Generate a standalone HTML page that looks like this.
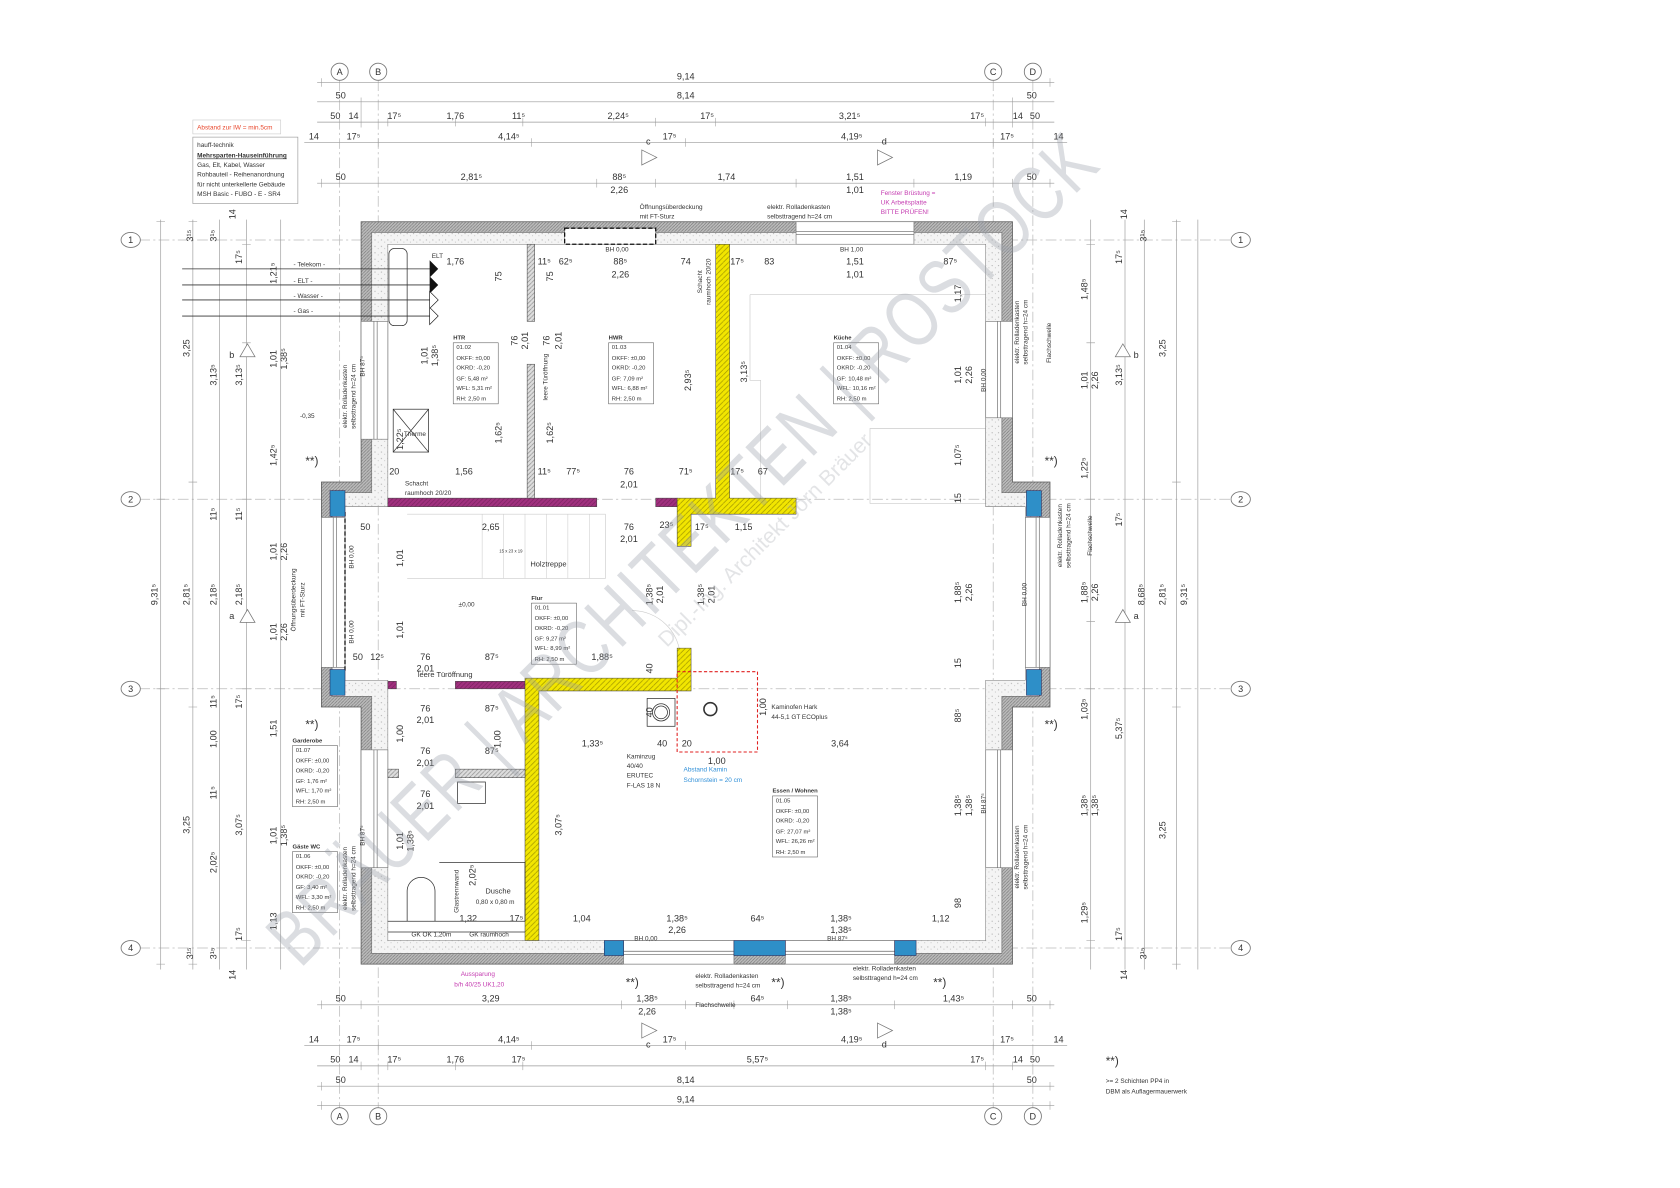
<!DOCTYPE html>
<html><head><meta charset="utf-8"><style>
html,body{margin:0;padding:0;background:#fff;}
svg{display:block;}
text{font-family:"Liberation Sans",sans-serif;fill:#333;}
.d{font-size:8.5px;}
.s{font-size:6px;}
.t{font-size:5.5px;}
</style></head><body>
<svg width="1680" height="1188" viewBox="0 0 1568 1109" preserveAspectRatio="none" xmlns="http://www.w3.org/2000/svg">
<defs>
<pattern id="h" width="3" height="3" patternUnits="userSpaceOnUse"><rect width="3" height="3" fill="#bbb"/><path d="M0 3L3 0" stroke="#777" stroke-width="0.6"/></pattern>
<pattern id="y" width="5" height="5" patternUnits="userSpaceOnUse"><rect width="5" height="5" fill="#f2e600"/><path d="M0 5L5 0" stroke="#9a9000" stroke-width="0.6"/></pattern>
<pattern id="m" width="4" height="4" patternUnits="userSpaceOnUse"><rect width="4" height="4" fill="#a0307e"/><path d="M0 4L4 0" stroke="#6d1c55" stroke-width="0.5"/></pattern>
<pattern id="g" width="4" height="4" patternUnits="userSpaceOnUse"><rect width="4" height="4" fill="#ddd"/><path d="M0 4L4 0" stroke="#888" stroke-width="0.6"/></pattern>
<pattern id="dt" width="6" height="6" patternUnits="userSpaceOnUse"><rect width="6" height="6" fill="#f4f4f4"/><circle cx="2" cy="2" r="0.5" fill="#999"/><circle cx="5" cy="4" r="0.4" fill="#aaa"/></pattern>
</defs>

<g stroke="#bbb" stroke-width="0.7" stroke-dasharray="10 3 2 3" fill="none">
<line x1="317" y1="75" x2="317" y2="1034"/><line x1="353" y1="75" x2="353" y2="1034"/>
<line x1="927" y1="75" x2="927" y2="1034"/><line x1="964" y1="75" x2="964" y2="1034"/>
<line x1="130" y1="224" x2="1150" y2="224"/><line x1="130" y1="466" x2="1150" y2="466"/>
<line x1="130" y1="643" x2="1150" y2="643"/><line x1="130" y1="885" x2="1150" y2="885"/>
</g>
<g fill="#fff" stroke="#777" stroke-width="0.8">
<ellipse cx="317" cy="67" rx="8" ry="8"/><ellipse cx="353" cy="67" rx="8" ry="8"/><ellipse cx="927" cy="67" rx="8" ry="8"/><ellipse cx="964" cy="67" rx="8" ry="8"/>
<ellipse cx="317" cy="1042" rx="8" ry="8"/><ellipse cx="353" cy="1042" rx="8" ry="8"/><ellipse cx="927" cy="1042" rx="8" ry="8"/><ellipse cx="964" cy="1042" rx="8" ry="8"/>
<ellipse cx="122" cy="224" rx="9" ry="7"/><ellipse cx="122" cy="466" rx="9" ry="7"/><ellipse cx="122" cy="643" rx="9" ry="7"/><ellipse cx="122" cy="885" rx="9" ry="7"/>
<ellipse cx="1158" cy="224" rx="9" ry="7"/><ellipse cx="1158" cy="466" rx="9" ry="7"/><ellipse cx="1158" cy="643" rx="9" ry="7"/><ellipse cx="1158" cy="885" rx="9" ry="7"/>
</g>
<g class="d" text-anchor="middle">
<text x="317" y="70">A</text><text x="353" y="70">B</text><text x="927" y="70">C</text><text x="964" y="70">D</text>
<text x="317" y="1045">A</text><text x="353" y="1045">B</text><text x="927" y="1045">C</text><text x="964" y="1045">D</text>
<text x="122" y="227">1</text><text x="122" y="469">2</text><text x="122" y="646">3</text><text x="122" y="888">4</text>
<text x="1158" y="227">1</text><text x="1158" y="469">2</text><text x="1158" y="646">3</text><text x="1158" y="888">4</text>
</g>

<g stroke="#999" stroke-width="0.6">
<line x1="296" y1="77" x2="984" y2="77"/><line x1="296" y1="95" x2="984" y2="95"/>
<line x1="296" y1="114" x2="984" y2="114"/><line x1="284" y1="133" x2="996" y2="133"/>
<line x1="296" y1="171" x2="984" y2="171"/>
<line x1="296" y1="938" x2="984" y2="938"/><line x1="284" y1="976" x2="996" y2="976"/>
<line x1="296" y1="995" x2="984" y2="995"/><line x1="296" y1="1014" x2="984" y2="1014"/>
<line x1="296" y1="1032" x2="984" y2="1032"/>
<line x1="150" y1="205" x2="150" y2="905"/><line x1="180" y1="205" x2="180" y2="905"/>
<line x1="205" y1="205" x2="205" y2="905"/><line x1="230" y1="205" x2="230" y2="905"/>
<line x1="262" y1="205" x2="262" y2="905"/>
<line x1="1018" y1="205" x2="1018" y2="905"/><line x1="1050" y1="205" x2="1050" y2="905"/>
<line x1="1068" y1="205" x2="1068" y2="905"/><line x1="1098" y1="205" x2="1098" y2="905"/>
<line x1="1118" y1="205" x2="1118" y2="905"/>
</g>
<g stroke="#999" stroke-width="0.5">
<path d="M300 73v8M337 91v28M362 110v8M425 110v8M488 110v8M612 110v8M668 110v8M920 110v8M945 91v28M980 73v8M353 129v8M496 129v8M640 129v8M927 129v8M300 167v8M557 167v8M612 167v8M743 167v8M853 167v8M945 167v8M980 167v8"/>
<path d="M300 934v8M337 934v8M580 934v8M640 934v8M685 934v8M735 934v8M835 934v8M945 934v8M980 934v8M353 972v8M496 972v8M640 972v8M927 972v8M337 991v8M362 991v8M425 991v8M488 991v8M920 991v8M945 991v8M300 1010v8M980 1010v8M300 1028v8M980 1028v8"/>
<path d="M146 207h8M146 466h8M146 643h8M146 900h8M176 207h8M176 450h8M176 660h8M176 900h8M226 228h8M226 320h8M226 466h8M226 580h8M226 643h8M226 878h8M1014 228h8M1014 320h8M1014 466h8M1014 580h8M1014 643h8M1014 878h8M1094 207h8M1094 450h8M1094 660h8M1094 900h8"/>
</g>
<g class="d" text-anchor="middle">
<text x="640" y="74">9,14</text>
<text x="318" y="92">50</text><text x="640" y="92">8,14</text><text x="963" y="92">50</text>
<text x="313" y="111">50</text><text x="330" y="111">14</text><text x="368" y="111">17⁵</text><text x="425" y="111">1,76</text><text x="484" y="111">11⁵</text><text x="577" y="111">2,24⁵</text><text x="660" y="111">17⁵</text><text x="793" y="111">3,21⁵</text><text x="912" y="111">17⁵</text><text x="950" y="111">14</text><text x="966" y="111">50</text>
<text x="293" y="130">14</text><text x="330" y="130">17⁵</text><text x="475" y="130">4,14⁵</text><text x="625" y="130">17⁵</text><text x="795" y="130">4,19⁵</text><text x="940" y="130">17⁵</text><text x="988" y="130">14</text>
<text x="318" y="168">50</text><text x="440" y="168">2,81⁵</text><text x="578" y="168">88⁵</text><text x="578" y="180">2,26</text><text x="678" y="168">1,74</text><text x="798" y="168">1,51</text><text x="798" y="180">1,01</text><text x="899" y="168">1,19</text><text x="963" y="168">50</text>
<text x="318" y="935">50</text><text x="458" y="935">3,29</text><text x="604" y="935">1,38⁵</text><text x="604" y="947">2,26</text><text x="707" y="935">64⁵</text><text x="785" y="935">1,38⁵</text><text x="785" y="947">1,38⁵</text><text x="890" y="935">1,43⁵</text><text x="963" y="935">50</text>
<text x="293" y="973">14</text><text x="330" y="973">17⁵</text><text x="475" y="973">4,14⁵</text><text x="625" y="973">17⁵</text><text x="795" y="973">4,19⁵</text><text x="940" y="973">17⁵</text><text x="988" y="973">14</text>
<text x="313" y="992">50</text><text x="330" y="992">14</text><text x="368" y="992">17⁵</text><text x="425" y="992">1,76</text><text x="484" y="992">17⁵</text><text x="707" y="992">5,57⁵</text><text x="912" y="992">17⁵</text><text x="950" y="992">14</text><text x="966" y="992">50</text>
<text x="318" y="1011">50</text><text x="640" y="1011">8,14</text><text x="963" y="1011">50</text>
<text x="640" y="1029">9,14</text>
</g>
<g class="d" text-anchor="middle">
<text transform="translate(147,555) rotate(-90)">9,31⁵</text>
<text transform="translate(177,325) rotate(-90)">3,25</text><text transform="translate(177,555) rotate(-90)">2,81⁵</text><text transform="translate(177,770) rotate(-90)">3,25</text>
<text transform="translate(202,350) rotate(-90)">3,13⁵</text><text transform="translate(202,480) rotate(-90)">11⁵</text><text transform="translate(202,555) rotate(-90)">2,18⁵</text><text transform="translate(202,655) rotate(-90)">11⁵</text><text transform="translate(202,690) rotate(-90)">1,00</text><text transform="translate(202,740) rotate(-90)">11⁵</text><text transform="translate(202,805) rotate(-90)">2,02⁵</text>
<text transform="translate(226,350) rotate(-90)">3,13⁵</text><text transform="translate(226,480) rotate(-90)">11⁵</text><text transform="translate(226,555) rotate(-90)">2,18⁵</text><text transform="translate(226,655) rotate(-90)">17⁵</text><text transform="translate(226,770) rotate(-90)">3,07⁵</text><text transform="translate(226,240) rotate(-90)">17⁵</text><text transform="translate(226,872) rotate(-90)">17⁵</text>
<text transform="translate(258,335) rotate(-90)">1,01</text><text transform="translate(268,335) rotate(-90)">1,38⁵</text><text transform="translate(258,425) rotate(-90)">1,42⁵</text><text transform="translate(258,515) rotate(-90)">1,01</text><text transform="translate(268,515) rotate(-90)">2,26</text><text transform="translate(258,590) rotate(-90)">1,01</text><text transform="translate(268,590) rotate(-90)">2,26</text><text transform="translate(258,680) rotate(-90)">1,51</text><text transform="translate(258,780) rotate(-90)">1,01</text><text transform="translate(268,780) rotate(-90)">1,38⁵</text><text transform="translate(258,860) rotate(-90)">1,13</text><text transform="translate(258,255) rotate(-90)">1,21⁵</text>
<text transform="translate(1015,270) rotate(-90)">1,48⁵</text><text transform="translate(1015,355) rotate(-90)">1,01</text><text transform="translate(1025,355) rotate(-90)">2,26</text><text transform="translate(1015,437) rotate(-90)">1,22⁵</text><text transform="translate(1015,553) rotate(-90)">1,88⁵</text><text transform="translate(1025,553) rotate(-90)">2,26</text><text transform="translate(1015,662) rotate(-90)">1,03⁵</text><text transform="translate(1015,752) rotate(-90)">1,38⁵</text><text transform="translate(1025,752) rotate(-90)">1,38⁵</text><text transform="translate(1015,852) rotate(-90)">1,29⁵</text>
<text transform="translate(1047,240) rotate(-90)">17⁵</text><text transform="translate(1047,350) rotate(-90)">3,13⁵</text><text transform="translate(1047,485) rotate(-90)">17⁵</text><text transform="translate(1047,680) rotate(-90)">5,37⁵</text><text transform="translate(1047,872) rotate(-90)">17⁵</text>
<text transform="translate(1068,555) rotate(-90)">8,68⁵</text>
<text transform="translate(1088,325) rotate(-90)">3,25</text><text transform="translate(1088,555) rotate(-90)">2,81⁵</text><text transform="translate(1088,775) rotate(-90)">3,25</text>
<text transform="translate(1108,555) rotate(-90)">9,31⁵</text>
<text transform="translate(180,220) rotate(-90)">3¹⁵</text><text transform="translate(202,220) rotate(-90)">3¹⁵</text><text transform="translate(1070,220) rotate(-90)">3¹⁵</text>
<text transform="translate(180,890) rotate(-90)">3¹⁵</text><text transform="translate(202,890) rotate(-90)">3¹⁵</text><text transform="translate(1070,890) rotate(-90)">3¹⁵</text>
<text transform="translate(220,200) rotate(-90)">14</text><text transform="translate(220,910) rotate(-90)">14</text><text transform="translate(1052,200) rotate(-90)">14</text><text transform="translate(1052,910) rotate(-90)">14</text>
</g>
<g fill="#fff" stroke="#777" stroke-width="0.7">
<path d="M599 140l14 7-14 7z"/><path d="M819 140l14 7-14 7z"/><path d="M599 955l14 7-14 7z"/><path d="M819 955l14 7-14 7z"/>
<path d="M224 333l7-12 7 12z"/><path d="M224 581l7-12 7 12z"/><path d="M1041 333l7-12 7 12z"/><path d="M1041 581l7-12 7 12z"/>
</g>
<g class="d"><text x="603" y="135">c</text><text x="823" y="135">d</text><text x="603" y="978">c</text><text x="823" y="978">d</text><text x="214" y="334">b</text><text x="214" y="578">a</text><text x="1058" y="334">b</text><text x="1058" y="578">a</text></g>

<rect x="180" y="112" width="82" height="13" fill="#fff" stroke="#ccc" stroke-width="0.6"/>
<text x="184" y="121" class="s" style="fill:#e8452a">Abstand zur IW = min.5cm</text>
<rect x="180" y="128" width="98" height="62" fill="#fff" stroke="#999" stroke-width="0.6"/>
<g class="s"><text x="184" y="137">hauff-technik</text><text x="184" y="147" font-weight="bold" text-decoration="underline">Mehrsparten-Hauseinführung</text><text x="184" y="156">Gas, Elt, Kabel, Wasser</text><text x="184" y="165">Rohbauteil - Reihenanordnung</text><text x="184" y="174">für nicht unterkellerte Gebäude</text><text x="184" y="183">MSH Basic - FUBO - E - SR4</text></g>

<g fill="none" stroke="#ccc" stroke-width="0.6">
<path d="M700 275h220v190"/><path d="M700 275v80h10v110"/>
<path d="M812 400h108v70h-108z"/>
<path d="M590 570a45 45 0 0 1 45 45"/>
<path d="M380 480h185v60h-185"/>
</g>
<g stroke="#ccc" stroke-width="0.5">
<path d="M450 480v60M470 480v60M490 480v60M510 480v60M530 480v60M550 480v60"/>
</g>

<path fill-rule="evenodd" fill="url(#h)" stroke="#555" stroke-width="0.7" d="M337 207H945V450H980V660H945V900H337V660H300V450H337Z M347 217H935V460H970V650H935V890H347V650H310V460H347Z"/>
<path fill-rule="evenodd" fill="url(#dt)" stroke="#777" stroke-width="0.5" d="M347 217H935V460H970V650H935V890H347V650H310V460H347Z M362 228H920V473H957V635H920V878H362V635H322V473H362Z"/>
<g fill="#fff" stroke="#777" stroke-width="0.6">
<rect x="743" y="207" width="110" height="21"/>
<rect x="527" y="213" width="85" height="15"/>
<rect x="337" y="300" width="25" height="110"/><rect x="920" y="300" width="25" height="90"/>
<rect x="300" y="483" width="22" height="140"/><rect x="957" y="483" width="23" height="140"/>
<rect x="337" y="700" width="25" height="110"/><rect x="920" y="700" width="25" height="110"/>
<rect x="582" y="878" width="103" height="22"/><rect x="733" y="878" width="102" height="22"/>
</g>
<g stroke="#666" stroke-width="0.6" fill="none">
<path d="M743 216h110M743 219h110M349 300v110M352 300v110M931 300v90M934 300v90M311 483v140M314 483v140M967 483v140M970 483v140M349 700v110M352 700v110M931 700v110M934 700v110M582 888h103M582 891h103M733 888h102M733 891h102"/>
</g>
<rect x="527" y="213" width="85" height="15" fill="none" stroke="#111" stroke-width="1.2" stroke-dasharray="4 2"/>
<path d="M322 478v150" stroke="#111" stroke-width="1.2" stroke-dasharray="4 2"/>
<g fill="#2e8fc8" stroke="#225" stroke-width="0.5">
<rect x="308" y="458" width="14" height="24"/><rect x="308" y="625" width="14" height="24"/>
<rect x="958" y="458" width="14" height="24"/><rect x="958" y="625" width="14" height="24"/>
<rect x="564" y="878" width="18" height="14"/><rect x="685" y="878" width="48" height="14"/><rect x="835" y="878" width="20" height="14"/>
</g>

<g stroke="#444" stroke-width="0.5">
<rect x="362" y="465" width="195" height="8" fill="url(#m)"/><rect x="612" y="465" width="20" height="8" fill="url(#m)"/>
<rect x="362" y="636" width="8" height="7" fill="url(#m)"/><rect x="425" y="636" width="65" height="7" fill="url(#m)"/>
<path fill="url(#y)" d="M668 228H681V465H743V480H645V510H632V465H668Z"/>
<path fill="url(#y)" d="M632 605H645V645H503V878H490V633H632Z"/>
<rect x="492" y="228" width="7" height="72" fill="url(#g)"/><rect x="492" y="340" width="7" height="125" fill="url(#g)"/>
<rect x="362" y="718" width="10" height="8" fill="url(#g)"/><rect x="425" y="718" width="65" height="8" fill="url(#g)"/>
</g>
<g fill="none" stroke="#333" stroke-width="0.7">
<path d="M410 805H490V860M362 860H490"/><path d="M362 870H490"/>
<path d="M380 860v-28a13 13 0 0 1 26 0v28"/>
<rect x="367" y="382" width="33" height="40"/><path d="M367 382l33 40M400 382l-33 40"/>
<rect x="604" y="652" width="26" height="26"/><circle cx="617" cy="665" r="8"/><circle cx="617" cy="665" r="6"/>
<rect x="427" y="730" width="26" height="20"/>
<rect x="363" y="232" width="17" height="72" rx="5"/>
</g>
<rect x="632" y="627" width="75" height="75" fill="none" stroke="#e02020" stroke-width="1" stroke-dasharray="3 2"/>
<circle cx="663" cy="662" r="6" fill="none" stroke="#333" stroke-width="1.5"/>
<g stroke="#333" stroke-width="0.8">
<line x1="170" y1="251" x2="405" y2="251"/><line x1="170" y1="266" x2="405" y2="266"/><line x1="170" y1="280" x2="405" y2="280"/><line x1="170" y1="295" x2="405" y2="295"/>
</g>
<path d="M401 243l8 8-8 8zM401 258l8 8-8 8z" fill="#111"/>
<path d="M401 272l8 8-8 8zM401 287l8 8-8 8z" fill="#fff" stroke="#111" stroke-width="0.6"/>
<g class="s"><text x="274" y="249">- Telekom -</text><text x="274" y="264">- ELT -</text><text x="274" y="278">- Wasser -</text><text x="274" y="292">- Gas -</text></g>

<g class="t">
<g transform="translate(423,312)"><text y="5" font-weight="bold">HTR</text><rect y="8" width="42" height="57" fill="none" stroke="#555" stroke-width="0.5"/><text x="3" y="14">01.02</text><text x="3" y="24">OKFF: ±0,00</text><text x="3" y="33">OKRD: -0,20</text><text x="3" y="43">GF:   5,48 m²</text><text x="3" y="52">WFL: 5,31 m²</text><text x="3" y="62">RH:   2,50 m</text></g>
<g transform="translate(568,312)"><text y="5" font-weight="bold">HWR</text><rect y="8" width="42" height="57" fill="none" stroke="#555" stroke-width="0.5"/><text x="3" y="14">01.03</text><text x="3" y="24">OKFF: ±0,00</text><text x="3" y="33">OKRD: -0,20</text><text x="3" y="43">GF:   7,09 m²</text><text x="3" y="52">WFL: 6,88 m²</text><text x="3" y="62">RH:   2,50 m</text></g>
<g transform="translate(778,312)"><text y="5" font-weight="bold">Küche</text><rect y="8" width="42" height="57" fill="none" stroke="#555" stroke-width="0.5"/><text x="3" y="14">01.04</text><text x="3" y="24">OKFF: ±0,00</text><text x="3" y="33">OKRD: -0,20</text><text x="3" y="43">GF:   10,48 m²</text><text x="3" y="52">WFL: 10,16 m²</text><text x="3" y="62">RH:   2,50 m</text></g>
<g transform="translate(496,555)"><text y="5" font-weight="bold">Flur</text><rect y="8" width="42" height="57" fill="none" stroke="#555" stroke-width="0.5"/><text x="3" y="14">01.01</text><text x="3" y="24">OKFF: ±0,00</text><text x="3" y="33">OKRD: -0,20</text><text x="3" y="43">GF:   9,27 m²</text><text x="3" y="52">WFL: 8,99 m²</text><text x="3" y="62">RH:   2,50 m</text></g>
<g transform="translate(721,735)"><text y="5" font-weight="bold">Essen / Wohnen</text><rect y="8" width="42" height="57" fill="none" stroke="#555" stroke-width="0.5"/><text x="3" y="14">01.05</text><text x="3" y="24">OKFF: ±0,00</text><text x="3" y="33">OKRD: -0,20</text><text x="3" y="43">GF:   27,07 m²</text><text x="3" y="52">WFL: 26,26 m²</text><text x="3" y="62">RH:   2,50 m</text></g>
<g transform="translate(273,688)"><text y="5" font-weight="bold">Garderobe</text><rect y="8" width="42" height="57" fill="none" stroke="#555" stroke-width="0.5"/><text x="3" y="14">01.07</text><text x="3" y="24">OKFF: ±0,00</text><text x="3" y="33">OKRD: -0,20</text><text x="3" y="43">GF:   1,76 m²</text><text x="3" y="52">WFL: 1,70 m²</text><text x="3" y="62">RH:   2,50 m</text></g>
<g transform="translate(273,787)"><text y="5" font-weight="bold">Gäste WC</text><rect y="8" width="42" height="57" fill="none" stroke="#555" stroke-width="0.5"/><text x="3" y="14">01.06</text><text x="3" y="24">OKFF: ±0,00</text><text x="3" y="33">OKRD: -0,20</text><text x="3" y="43">GF:   3,40 m²</text><text x="3" y="52">WFL: 3,30 m²</text><text x="3" y="62">RH:   2,50 m</text></g>
</g>

<g class="d" text-anchor="middle">
<text x="425" y="247">1,76</text><text x="508" y="247">11⁵</text><text x="528" y="247">62⁵</text><text x="579" y="247">88⁵</text><text x="579" y="259">2,26</text><text x="640" y="247">74</text><text x="688" y="247">17⁵</text><text x="718" y="247">83</text><text x="798" y="247">1,51</text><text x="798" y="259">1,01</text><text x="887" y="247">87⁵</text>
<text x="368" y="443">20</text><text x="433" y="443">1,56</text><text x="508" y="443">11⁵</text><text x="535" y="443">77⁵</text><text x="587" y="443">76</text><text x="587" y="455">2,01</text><text x="640" y="443">71⁵</text><text x="688" y="443">17⁵</text><text x="712" y="443">67</text>
<text x="341" y="495">50</text><text x="458" y="495">2,65</text><text x="587" y="495">76</text><text x="587" y="506">2,01</text><text x="622" y="493">23⁵</text><text x="655" y="495">17⁵</text><text x="694" y="495">1,15</text>
<text x="334" y="616">50</text><text x="352" y="616">12⁵</text><text x="397" y="616">76</text><text x="397" y="627">2,01</text><text x="459" y="616">87⁵</text><text x="562" y="616">1,88⁵</text>
<text x="397" y="664">76</text><text x="397" y="675">2,01</text><text x="459" y="664">87⁵</text>
<text x="397" y="704">76</text><text x="397" y="715">2,01</text><text x="459" y="704">87⁵</text>
<text x="397" y="744">76</text><text x="397" y="755">2,01</text>
<text x="553" y="697">1,33⁵</text><text x="618" y="697">40</text><text x="641" y="697">20</text><text x="784" y="697">3,64</text><text x="669" y="713">1,00</text>
<text x="543" y="860">1,04</text><text x="632" y="860">1,38⁵</text><text x="632" y="871">2,26</text><text x="707" y="860">64⁵</text><text x="785" y="860">1,38⁵</text><text x="785" y="871">1,38⁵</text><text x="878" y="860">1,12</text><text x="437" y="860">1,32</text><text x="482" y="860">17⁵</text>
</g>
<g class="d" text-anchor="middle">
<text transform="translate(468,258) rotate(-90)">75</text><text transform="translate(516,258) rotate(-90)">75</text>
<text transform="translate(483,318) rotate(-90)">76</text><text transform="translate(493,318) rotate(-90)">2,01</text>
<text transform="translate(513,318) rotate(-90)">76</text><text transform="translate(524,318) rotate(-90)">2,01</text>
<text transform="translate(468,404) rotate(-90)">1,62⁵</text><text transform="translate(516,404) rotate(-90)">1,62⁵</text>
<text transform="translate(645,355) rotate(-90)">2,93⁵</text><text transform="translate(697,347) rotate(-90)">3,13⁵</text>
<text transform="translate(399,332) rotate(-90)">1,01</text><text transform="translate(409,332) rotate(-90)">1,38⁵</text>
<text transform="translate(376,410) rotate(-90)">1,22⁵</text>
<text transform="translate(376,521) rotate(-90)">1,01</text><text transform="translate(376,588) rotate(-90)">1,01</text>
<text transform="translate(376,685) rotate(-90)">1,00</text><text transform="translate(467,690) rotate(-90)">1,00</text>
<text transform="translate(376,785) rotate(-90)">1,01</text><text transform="translate(386,785) rotate(-90)">1,38⁵</text>
<text transform="translate(524,770) rotate(-90)">3,07⁵</text><text transform="translate(444,817) rotate(-90)">2,02⁵</text>
<text transform="translate(609,555) rotate(-90)">1,38⁵</text><text transform="translate(619,555) rotate(-90)">2,01</text>
<text transform="translate(657,555) rotate(-90)">1,38⁵</text><text transform="translate(667,555) rotate(-90)">2,01</text>
<text transform="translate(609,624) rotate(-90)">40</text><text transform="translate(609,665) rotate(-90)">40</text>
<text transform="translate(897,274) rotate(-90)">1,17</text><text transform="translate(897,425) rotate(-90)">1,07⁵</text>
<text transform="translate(897,465) rotate(-90)">15</text><text transform="translate(897,619) rotate(-90)">15</text>
<text transform="translate(897,553) rotate(-90)">1,88⁵</text><text transform="translate(907,553) rotate(-90)">2,26</text>
<text transform="translate(897,350) rotate(-90)">1,01</text><text transform="translate(907,350) rotate(-90)">2,26</text>
<text transform="translate(897,668) rotate(-90)">88⁵</text><text transform="translate(897,843) rotate(-90)">98</text>
<text transform="translate(897,752) rotate(-90)">1,38⁵</text><text transform="translate(907,752) rotate(-90)">1,38⁵</text>
<text transform="translate(715,660) rotate(-90)">1,00</text>
</g>
<g class="s">
<text x="597" y="195">Öffnungsüberdeckung</text><text x="597" y="204">mit FT-Sturz</text>
<text x="716" y="195">elektr. Rolladenkasten</text><text x="716" y="204">selbsttragend h=24 cm</text>
<text x="822" y="182" style="fill:#c43bb0">Fenster Brüstung =</text><text x="822" y="191" style="fill:#c43bb0">UK Arbeitsplatte</text><text x="822" y="200" style="fill:#c43bb0">BITTE PRÜFEN!</text>
<text x="565" y="235">BH 0,00</text><text x="784" y="235">BH 1,00</text><text x="403" y="241">ELT</text>
<text x="378" y="453">Schacht</text><text x="378" y="462">raumhoch 20/20</text>
<text x="377" y="407">Therme</text>
<text x="466" y="516" font-size="4">15 x 23 x 19</text><text x="495" y="529" style="font-size:7px">Holztreppe</text>
<text x="428" y="566">±0,00</text><text x="280" y="390">-0,35</text>
<text x="390" y="632" style="font-size:7px">leere Türöffnung</text>
<text x="720" y="662">Kaminofen Hark</text><text x="720" y="671">44-5,1 GT ECOplus</text>
<text x="585" y="708">Kaminzug</text><text x="585" y="717">40/40</text><text x="585" y="726">ERUTEC</text><text x="585" y="735">F-LAS 18 N</text>
<text x="638" y="720" style="fill:#2f8fd8">Abstand Kamin</text><text x="638" y="730" style="fill:#2f8fd8">Schornstein = 20 cm</text>
<text x="453" y="834" style="font-size:7px">Dusche</text><text x="444" y="844">0,80 x 0,80 m</text>
<text x="384" y="874">GK OK 1,20m</text><text x="438" y="874">GK raumhoch</text>
<text x="430" y="911" style="fill:#c43bb0">Aussparung</text><text x="424" y="921" style="fill:#c43bb0">b/h 40/25 UK1,20</text>
<text x="649" y="913">elektr. Rolladenkasten</text><text x="649" y="922">selbsttragend h=24 cm</text><text x="649" y="940">Flachschwelle</text>
<text x="796" y="906">elektr. Rolladenkasten</text><text x="796" y="915">selbsttragend h=24 cm</text>
<text x="592" y="878">BH 0,00</text><text x="772" y="878">BH 87⁵</text>
<text x="1032" y="1011">&gt;= 2 Schichten PP4 in</text><text x="1032" y="1021">DBM als Auflagermauerwerk</text>
</g>
<g class="s" text-anchor="middle">
<text transform="translate(655,263) rotate(-90)">Schacht</text><text transform="translate(663,263) rotate(-90)">raumhoch 20/20</text>
<text transform="translate(511,352) rotate(-90)">leere Türöffnung</text>
<text transform="translate(324,370) rotate(-90)">elektr. Rolladenkasten</text><text transform="translate(332,370) rotate(-90)">selbsttragend h=24 cm</text>
<text transform="translate(324,820) rotate(-90)">elektr. Rolladenkasten</text><text transform="translate(332,820) rotate(-90)">selbsttragend h=24 cm</text>
<text transform="translate(276,560) rotate(-90)">Öffnungsüberdeckung</text><text transform="translate(284,560) rotate(-90)">mit FT-Sturz</text>
<text transform="translate(951,310) rotate(-90)">elektr. Rolladenkasten</text><text transform="translate(959,310) rotate(-90)">selbsttragend h=24 cm</text><text transform="translate(981,320) rotate(-90)">Flachschwelle</text>
<text transform="translate(991,500) rotate(-90)">elektr. Rolladenkasten</text><text transform="translate(999,500) rotate(-90)">selbsttragend h=24 cm</text><text transform="translate(1019,500) rotate(-90)">Flachschwelle</text>
<text transform="translate(951,800) rotate(-90)">elektr. Rolladenkasten</text><text transform="translate(959,800) rotate(-90)">selbsttragend h=24 cm</text>
<text transform="translate(428,832) rotate(-90)">Glastrennwand</text>
<text transform="translate(340,342) rotate(-90)">BH 87⁵</text><text transform="translate(330,520) rotate(-90)">BH 0,00</text><text transform="translate(330,590) rotate(-90)">BH 0,00</text>
<text transform="translate(920,355) rotate(-90)">BH 0,00</text><text transform="translate(958,555) rotate(-90)">BH 0,00</text><text transform="translate(920,750) rotate(-90)">BH 87⁵</text><text transform="translate(340,780) rotate(-90)">BH 87⁵</text>
</g>
<g style="font-size:11px"><text x="285" y="434">**)</text><text x="975" y="434">**)</text><text x="285" y="680">**)</text><text x="975" y="680">**)</text><text x="584" y="921">**)</text><text x="720" y="921">**)</text><text x="871" y="921">**)</text><text x="1032" y="994">**)</text></g>

<g transform="translate(655,530) rotate(-45)" opacity="0.35">
<text x="0" y="0" text-anchor="middle" textLength="1060" lengthAdjust="spacingAndGlyphs" style="font-size:74px;fill:#9aa0aa;letter-spacing:3px">BRÄUER | ARCHITEKTEN | ROSTOCK</text>
<text x="60" y="30" text-anchor="middle" style="font-size:20px;fill:#b0b4ba">Dipl.-Ing. Architekt Jörn Bräuer</text>
</g>
</svg>
</body></html>
